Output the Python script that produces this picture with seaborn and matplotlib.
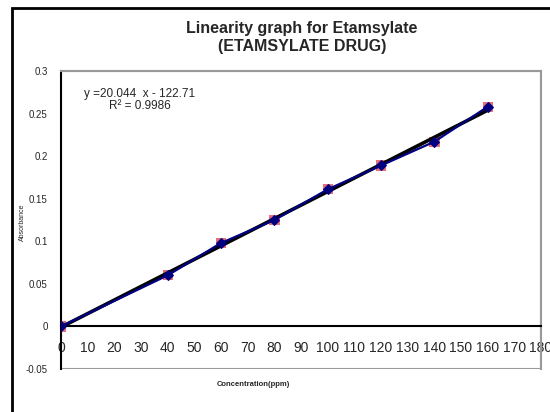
import numpy as np
import matplotlib
matplotlib.use("Agg")
import matplotlib.pyplot as plt
import seaborn as sns
from matplotlib.patches import Rectangle

# data
conc = [0, 40, 60, 80, 100, 120, 140, 160]
absorb = [0.0, 0.060, 0.098, 0.125, 0.161, 0.189, 0.217, 0.258]
x_ticks = list(range(0, 181, 10))
y_ticks = [-0.05, 0, 0.05, 0.1, 0.15, 0.2, 0.25, 0.3]
y_tick_labels = ["-0.05", "0", "0.05", "0.1", "0.15", "0.2", "0.25", "0.3"]
eq_text = "y =20.044  x - 122.71\nR\u00b2 = 0.9986"

sns.set_style("white")
plt.rcParams['font.family'] = ['Liberation Sans', 'DejaVu Sans']

fig = plt.figure(figsize=(5.5, 4.12), dpi=100)
ax = fig.add_axes([0.111, 0.1044, 0.8727, 0.7233])

# outer chart frame (cropped at right/bottom)
fig.patches.append(Rectangle((12 / 550, -0.05), 1.1, 1 - 8 / 412 + 0.05,
                             transform=fig.transFigure, fill=False,
                             edgecolor='black', linewidth=2, zorder=0))

# trendline
slope, icept = np.polyfit(conc, absorb, 1)
fit_x = np.array([conc[0], conc[-1]])
ax.plot(fit_x, slope * fit_x + icept, color='black', linewidth=2.6, zorder=4)

# series: red squares behind blue diamonds joined by blue line
sns.scatterplot(x=conc, y=absorb, marker='s', s=55, color='#e04050', alpha=0.75,
                edgecolor='none', ax=ax, zorder=3)
sns.lineplot(x=conc, y=absorb, color='#000080', linewidth=1.6, marker='D',
             markersize=5.5, markeredgecolor='#000080', ax=ax, zorder=5)

ax.set_xlim(0, 180)
ax.set_ylim(-0.05, 0.3)
ax.set_xticks(x_ticks)
ax.set_xticklabels([str(t) for t in x_ticks], fontsize=7.5)
ax.set_yticks(y_ticks)
ax.set_yticklabels(y_tick_labels, fontsize=7)

for s in ['top', 'right']:
    ax.spines[s].set_color('#999999')
    ax.spines[s].set_linewidth(1.5)
ax.spines['left'].set_color('black')
ax.spines['left'].set_linewidth(1.5)
ax.spines['bottom'].set_position(('data', 0))
ax.spines['bottom'].set_color('black')
ax.spines['bottom'].set_linewidth(1.5)
ax.add_patch(Rectangle((0, 0), 1, 1, transform=ax.transAxes, fill=False,
                       edgecolor='#999999', linewidth=1.5, zorder=0))

ax.tick_params(axis='both', direction='out', length=3.5, width=1.2, color='black',
               pad=6)
ax.tick_params(axis='x', pad=7)

ax.text(29.6, 0.2665, eq_text, ha='center', va='center', fontsize=8.5,
        linespacing=1.0)

fig.text(0.549, 0.908, "Linearity graph for Etamsylate\n(ETAMSYLATE DRUG)",
         ha='center', va='center', fontsize=11.5, fontweight='bold',
         linespacing=1.25)
fig.text(253 / 550, 1 - 384 / 412, "Concentration(ppm)", ha='center', va='center',
         fontsize=5.5, fontweight='bold')
fig.text(22 / 550, 1 - 222 / 412, "Absorbance", ha='center', va='center',
         fontsize=5, rotation=90)

fig.savefig("out.png", dpi=100)
